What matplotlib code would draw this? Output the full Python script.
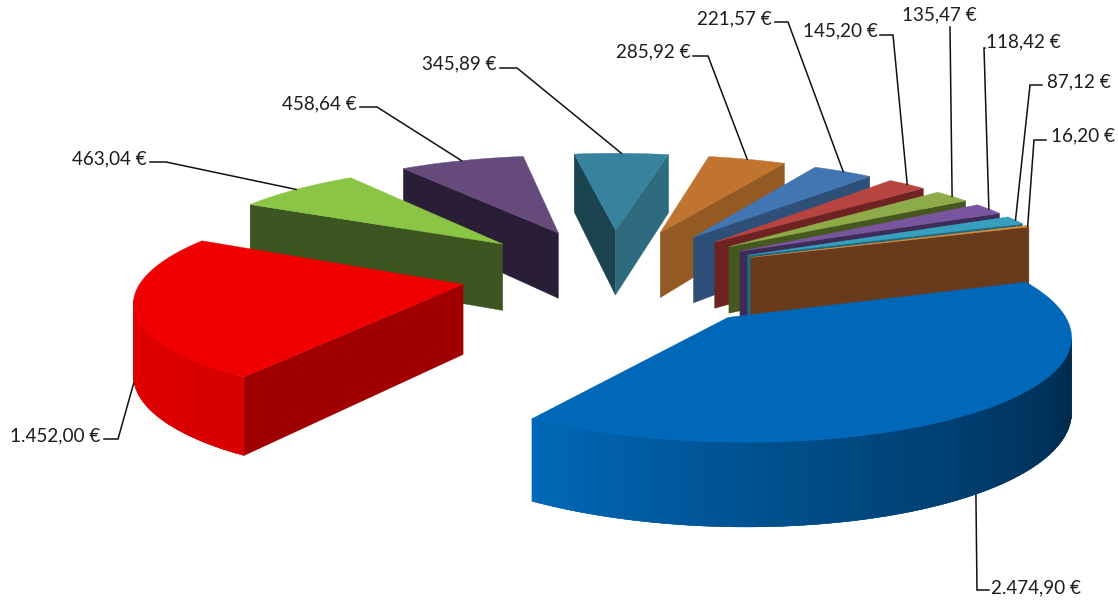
#!/usr/bin/env python3
# -*- coding: utf-8 -*-
import numpy as np
import matplotlib
matplotlib.use('Agg')
import matplotlib.pyplot as plt
from matplotlib.colors import to_rgb

plt.rcParams['font.family'] = ['Lato', 'DejaVu Sans']

# data
values = [2474.90, 1452.00, 463.04, 458.64, 345.89, 285.92,
          221.57, 145.20, 135.47, 118.42, 87.12, 16.20]
labels = ['2.474,90 €', '1.452,00 €', '463,04 €', '458,64 €', '345,89 €', '285,92 €',
          '221,57 €', '145,20 €', '135,47 €', '118,42 €', '87,12 €', '16,20 €']

# colours
top_colors = ['#0068b8', '#f00000', '#8bc545', '#664a7c', '#36829f', '#c1742f',
              '#4276b2', '#b7453f', '#8dab48', '#7a559f', '#38a0bf', '#e08a35']
start_face = ['#003560', '#a00000', '#3c5521', '#2a1e36', '#1a4450', '#8a5220',
              '#2d4f78', '#6e2222', '#46581f', '#3d2b58', '#1f6a80', '#693b1c']
end_face = ['#003560', '#a00000', '#3c5521', '#2a1e36', '#2f6b7e', '#945a24',
            '#2d4f78', '#6e2222', '#46581f', '#3d2b58', '#1f6a80', '#693b1c']
# wall gradient, left end of the arc to right end
wall_stops = {
    0: ['#0068b8', '#00508e', '#003c6c', '#002a4c', '#00345e'],
    1: ['#f00000', '#ea0000', '#e20000', '#dc0000', '#d80000'],
}

# projection of the pie plane on the page, in pixels
CX, CY = 612, 273
R, B, K = 322, 97, 0.13
H = 69
START_ANGLE = 20
EXPLODE = [0.55, 0.47, 0.47, 0.47, 0.47, 0.47, 0.47, 0.47, 0.47, 0.47, 0.47, 0.47]
RADIUS = [0.99, 0.99, 1, 1, 1, 1, 1, 1, 1, 1, 1, 1]
DRAW_ORDER = [4, 3, 2, 1, 5, 6, 7, 8, 9, 10, 11, 0]

# label layout
label_pos = [(991, 588), (10, 436), (72, 159), (282, 104), (422, 64), (616, 52),
             (697, 19), (803, 31), (902, 15), (986, 42), (1047, 82), (1051, 136)]
leader_start = [(989, 590), (104, 439), (150, 162), (360, 107), (500, 68), (693, 56),
                (775, 22), (880, 35), (950, 27), (985, 48), (1042, 85), (1046, 140)]
leader_elbow = [(977, 590), (118, 439), (166, 162), (377, 107), (517, 68), (708, 56),
                (788, 22), (893, 35), (950, 27), (984, 48), (1030, 85), (1034, 140)]
leader_depth = [1.0, 1.0, 0, 0, 0, 0, 0, 0, 0, 0, 0, 0]


def project(x, y, z=0.0):
    w = 1 + K * y
    return CX + R * x / w, CY - B * y / w + H * z / w


def wall_color(i, t):
    # t runs 0 at the left end of the arc, 1 at the right end
    stops = wall_stops.get(i)
    if stops is None:
        return end_face[i]
    rgb = np.array([to_rgb(c) for c in stops])
    pos = np.linspace(0, 1, len(stops))
    return tuple(np.interp(t, pos, rgb[:, c]) for c in range(3))


fig = plt.figure(figsize=(11.18, 6.03), dpi=100)
ax = fig.add_axes([0, 0, 1, 1])
ax.set_xlim(0, 1118)
ax.set_ylim(603, 0)
ax.axis('off')

total = sum(values)
sweep = np.array(values) / total * 360
ends = START_ANGLE - np.cumsum(sweep)
starts = ends + sweep
leader_ends = {}

for i in DRAW_ORDER:
    mid = np.radians((starts[i] + ends[i]) / 2)
    ax0, ay0 = EXPLODE[i] * np.cos(mid), EXPLODE[i] * np.sin(mid)
    n = max(int(sweep[i] / 1.5), 4)
    th = np.radians(np.linspace(starts[i], ends[i], n))
    xs = np.r_[ax0, ax0 + RADIUS[i] * np.cos(th)]
    ys = np.r_[ay0, ay0 + RADIUS[i] * np.sin(th)]

    px, py = project(xs, ys)
    bx, by = project(xs, ys, 1.0)
    area = 0.5 * np.sum(px * np.roll(py, -1) - np.roll(px, -1) * py)

    # side faces, only the ones turned to the viewer
    m = len(xs)
    for j in range(m):
        k = (j + 1) % m
        dx = px[k] - px[j]
        if -dx * np.sign(area) <= 0:
            continue
        if j == 0:
            col = start_face[i]
        elif k == 0:
            col = end_face[i]
        else:
            col = wall_color(i, 1 - (j - 1) / max(m - 3, 1))
        # wall strips overlap the next one so no seams show
        q = k + 1 if j > 0 and k > 0 and k + 1 < m else k
        ax.fill([px[j], px[k], px[q], bx[q], bx[k], bx[j]],
                [py[j], py[k], py[q], by[q], by[k], by[j]],
                color=col, lw=0.3, zorder=2)

    ax.fill(px, py, color=top_colors[i], lw=0.3, zorder=2)

    ex, ey = project(ax0 + RADIUS[i] * np.cos(mid), ay0 + RADIUS[i] * np.sin(mid), leader_depth[i])
    leader_ends[i] = (ex, ey)

for i, lab in enumerate(labels):
    ax.text(label_pos[i][0], label_pos[i][1], lab, fontsize=13.6, color='#1c1c1c',
            ha='left', va='center', zorder=5)
    ax.plot([leader_start[i][0], leader_elbow[i][0], leader_ends[i][0]],
            [leader_start[i][1], leader_elbow[i][1], leader_ends[i][1]],
            color='#111111', lw=1.1, zorder=1 if leader_depth[i] else 4,
            solid_joinstyle='miter')

fig.savefig('out.png', dpi=100)
